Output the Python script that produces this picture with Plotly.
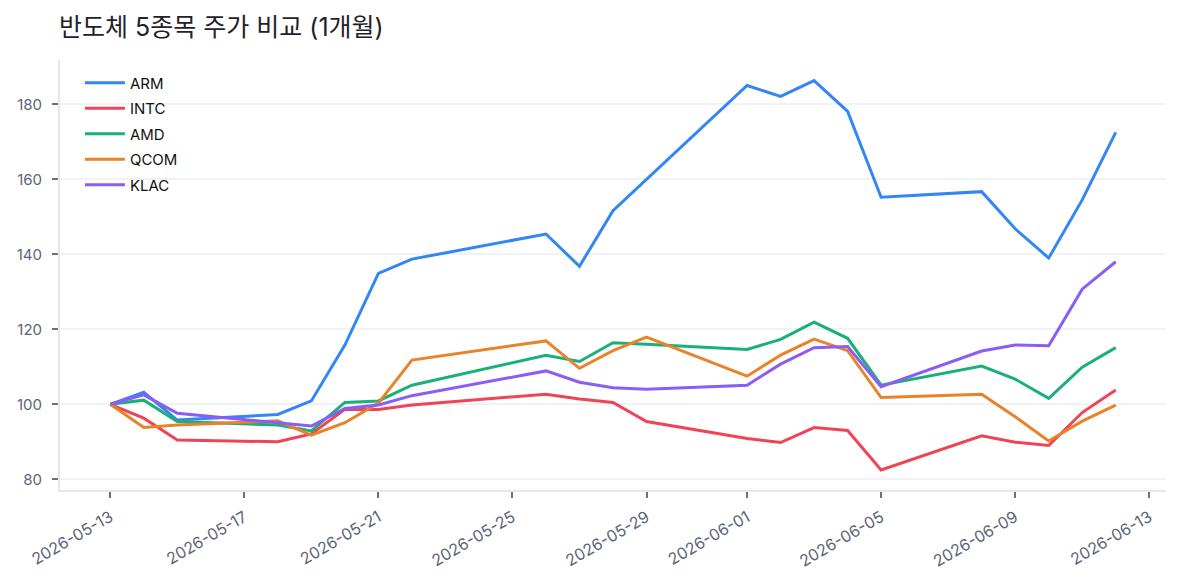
import plotly.graph_objects as go

dates = ["2026-05-13", "2026-05-14", "2026-05-15", "2026-05-18", "2026-05-19",
         "2026-05-20", "2026-05-21", "2026-05-22", "2026-05-26", "2026-05-27",
         "2026-05-28", "2026-05-29", "2026-06-01", "2026-06-02", "2026-06-03",
         "2026-06-04", "2026-06-05", "2026-06-08", "2026-06-09", "2026-06-10",
         "2026-06-11", "2026-06-12"]

arm = [100.0, 103.2, 95.8, 97.3, 100.9, 115.8, 134.9, 138.7, 145.4, 136.8,
       151.6, 160.0, 185.0, 182.1, 186.3, 178.1, 155.2, 156.7, 146.8, 139.0,
       154.5, 172.5]
intc = [100.0, 96.3, 90.5, 90.0, 92.1, 98.7, 98.6, 99.8, 102.7, 101.4,
        100.5, 95.4, 90.9, 89.8, 93.8, 93.0, 82.5, 91.6, 89.9, 89.0,
        97.8, 103.8]
amd = [100.0, 101.1, 95.4, 94.5, 92.9, 100.5, 100.9, 105.1, 113.1, 111.4,
       116.4, 116.0, 114.6, 117.3, 121.9, 117.6, 105.1, 110.2, 106.7, 101.6,
       109.9, 115.1]
qcom = [100.0, 93.8, 94.5, 95.6, 91.8, 95.1, 100.3, 111.8, 116.9, 109.6,
        114.3, 117.9, 107.5, 113.1, 117.4, 114.3, 101.8, 102.7, 96.7, 90.2,
        95.5, 99.8]
klac = [100.0, 102.5, 97.6, 95.1, 94.2, 98.9, 99.8, 102.3, 108.9, 105.9,
        104.4, 104.0, 105.1, 110.7, 115.1, 115.4, 104.7, 114.2, 115.8, 115.6,
        130.7, 138.0]

names = ["ARM", "INTC", "AMD", "QCOM", "KLAC"]
series = [arm, intc, amd, qcom, klac]
colors = ["#3485f6", "#ef4456", "#1bb07a", "#e8832a", "#8b5cf6"]

tick_dates = ["2026-05-13", "2026-05-17", "2026-05-21", "2026-05-25", "2026-05-29",
              "2026-06-01", "2026-06-05", "2026-06-09", "2026-06-13"]
y_ticks = [80, 100, 120, 140, 160, 180]

FONT = "Inter, Noto Sans CJK KR, sans-serif"

fig = go.Figure()
for name, vals, col in zip(names, series, colors):
    fig.add_trace(go.Scatter(x=dates, y=vals, name=name, mode="lines",
                             legendgroup=name,
                             line=dict(color=col, width=3)))

fig.update_layout(
    width=1180, height=585,
    paper_bgcolor="white", plot_bgcolor="white",
    margin=dict(l=52, r=22, t=52, b=103),
    title=dict(text="반도체 5종목 주가 비교 (1개월)", x=51/1180, xanchor="left",
               y=1 - 19/585, yanchor="middle",
               font=dict(family=FONT, size=25, color="#1f2329")),
    legend=dict(x=0.018, y=0.985, xanchor="left", yanchor="top",
                bgcolor="rgba(0,0,0,0)", borderwidth=0,
                font=dict(family=FONT, size=15, color="#111111"),
                tracegroupgap=3, itemwidth=40),
    showlegend=True,
)
fig.update_xaxes(
    type="date", automargin=False,
    range=["2026-05-11 12:00", "2026-06-13 12:00"],
    tickvals=tick_dates, ticktext=tick_dates,
    tickangle=-30, tickfont=dict(family=FONT, size=16, color="#5b6577"),
    ticklabelstandoff=4,
    ticks="outside", ticklen=6, tickwidth=2, tickcolor="#6b7280",
    showgrid=False, zeroline=False,
    showline=True, linecolor="#e5e7eb", linewidth=2,
)
fig.update_yaxes(
    range=[77.15, 191.8], automargin=False,
    tickvals=y_ticks, tickfont=dict(family=FONT, size=15, color="#5b6577"),
    ticklabelstandoff=7,
    ticks="outside", ticklen=6, tickwidth=2, tickcolor="#6b7280",
    showgrid=True, gridcolor="#f1f2f4", gridwidth=2,
    zeroline=False,
    showline=True, linecolor="#e5e7eb", linewidth=2,
)

fig.write_html("out.html")
